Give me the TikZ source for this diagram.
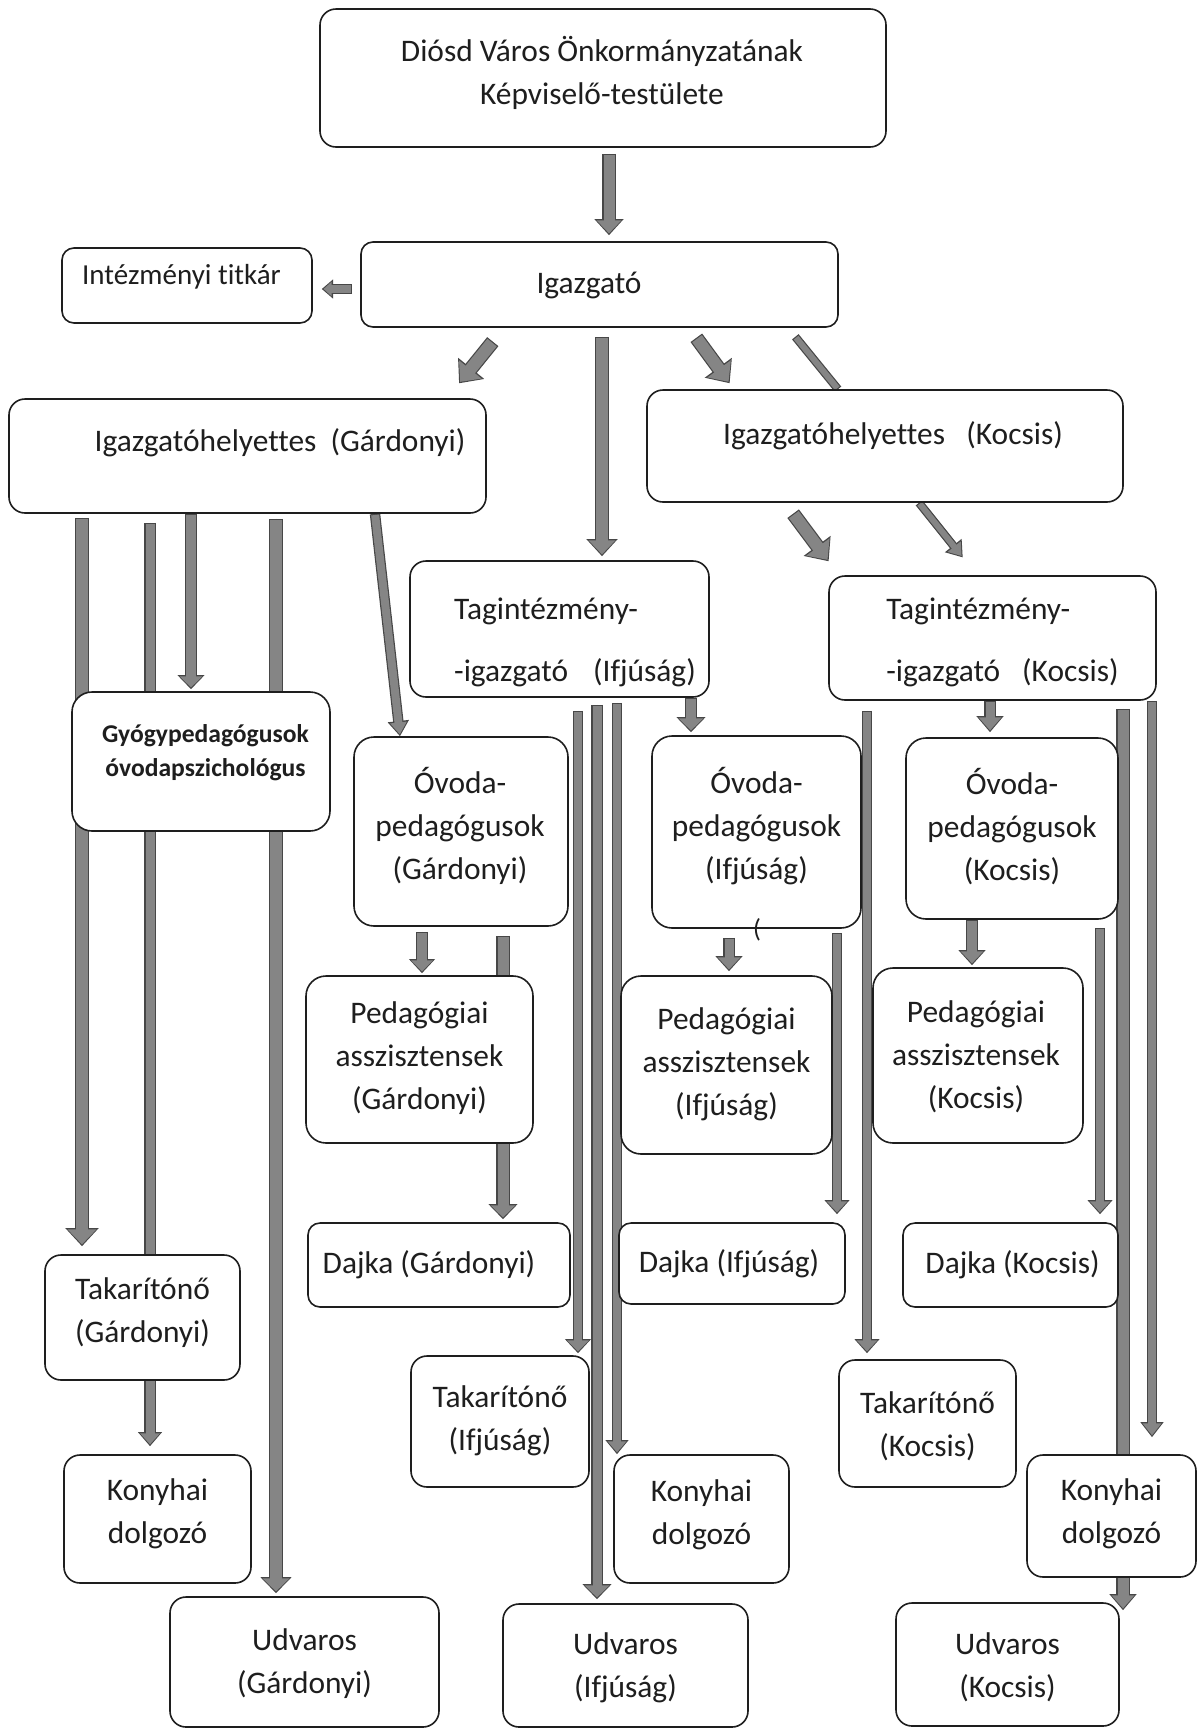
\documentclass[tikz,border=0pt]{standalone}
\usepackage{fontspec}
\setmainfont{Carlito}[Ligatures=NoCommon]
\usetikzlibrary{arrows.meta}
\definecolor{arrfill}{HTML}{858585}
\definecolor{arredge}{HTML}{474747}
\definecolor{boxline}{HTML}{1E1E1E}
\pgfdeclarelayer{back}
\pgfdeclarelayer{bg}
\pgfsetlayers{back,bg,main}
\newsavebox\offbox
% shifted text block: [align]{dx}{dy}{lines}
\newcommand{\offt}[4][c]{\sbox\offbox{\begin{tabular}{@{}#1@{}}#4\end{tabular}}%
  \raisebox{#3}[\ht\offbox][\dp\offbox]{\makebox[\wd\offbox][l]{\hspace*{#2}\usebox\offbox}}}
% box from corners (pixel units)
\newcommand{\bx}[7]{\node[obox,#6, minimum width={(#4-#2)*0.5pt}, minimum height={(#5-#3)*0.5pt}] (#1) at ({(#2+#4)/2},{(#3+#5)/2}) {#7};}
% block arrow: shaft, head width, head length, start gap, end gap, path
\newcommand{\blk}[6]{%
  \pgfmathsetmacro\bsO{#1+1.2}\pgfmathsetmacro\bhwO{#2+2.2}\pgfmathsetmacro\bhlO{#3+1.6}%
  \pgfmathsetmacro\bsgI{#4+0.6}\pgfmathsetmacro\begI{#5+0.9}%
  \draw[draw=arredge, fill=arredge, line width=\bsO pt, shorten <=#4pt, shorten >=#5pt, -{Triangle[width=\bhwO pt,length=\bhlO pt]}] #6;
  \draw[draw=arrfill, fill=arrfill, line width=#1pt, shorten <=\bsgI pt, shorten >=\begI pt, -{Triangle[width=#2pt,length=#3pt]}] #6;}
% plain bar: shaft, start gap, end gap, path
\newcommand{\lin}[4]{%
  \pgfmathsetmacro\bsO{#1+1.2}\pgfmathsetmacro\bsgI{#2+0.6}\pgfmathsetmacro\begI{#3+0.6}%
  \draw[draw=arredge, line width=\bsO pt, shorten <=#2pt, shorten >=#3pt] #4;
  \draw[draw=arrfill, line width=#1pt, shorten <=\bsgI pt, shorten >=\begI pt] #4;}
\tikzset{obox/.style={draw=boxline, line width=0.8pt, rounded corners=8pt, fill=white, inner sep=0pt, text=boxline, font=\fontsize{15.7}{21.5}\selectfont}}
\begin{document}
\begin{tikzpicture}[x=0.5pt, y=-0.5pt]
\useasboundingbox (0,0) rectangle (1199,1730);
\begin{pgfonlayer}{back}\fill[white] (0,0) rectangle (1199,1730);\end{pgfonlayer}

\bx{top}{320}{9}{886}{147}{}{\offt{-0.5pt}{1.75pt}{Diósd Város Önkormányzatának\\Képviselő-testülete}}
\bx{ig}{361}{242}{838}{327}{rounded corners=6pt}{\offt{-5.25pt}{0pt}{Igazgató}}
\bx{tit}{62}{248}{312}{323}{rounded corners=6pt, font=\fontsize{14.5}{18}\selectfont}{\offt{-2.75pt}{4.25pt}{Intézményi titkár}}
\bx{ghG}{9}{399}{486}{513}{}{\offt{16.25pt}{6.5pt}{Igazgatóhelyettes\hspace{0.45em}(Gárdonyi)}}
\bx{ghK}{647}{390}{1123}{502}{}{\offt{4pt}{5pt}{Igazgatóhelyettes\hspace{0.68em}(Kocsis)}}
\bx{tagI}{410}{561}{709}{697}{font=\fontsize{15.7}{31}\selectfont}{\offt[l]{7.75pt}{-4.5pt}{Tagintézmény-\\-igazgató\hspace{0.8em}(Ifjúság)}}
\bx{tagK}{829}{576}{1156}{700}{font=\fontsize{15.7}{31}\selectfont}{\offt[l]{5pt}{0pt}{Tagintézmény-\\-igazgató\hspace{0.7em}(Kocsis)}}
\bx{gy}{72}{692}{330}{831}{rounded corners=10pt, font=\fontsize{12.8}{17}\selectfont\bfseries}{\offt{2.25pt}{4.25pt}{Gyógypedagógusok\\óvodapszichológus}}
\bx{ovG}{354}{737}{568}{926}{rounded corners=10pt}{\offt{-0.5pt}{1.75pt}{Óvoda-\\pedagógusok\\(Gárdonyi)}}
\bx{ovI}{652}{736}{861}{928}{rounded corners=10pt}{\offt{0pt}{2pt}{Óvoda-\\pedagógusok\\(Ifjúság)}}
\bx{ovK}{906}{738}{1118}{919}{rounded corners=10pt}{\offt{0pt}{0pt}{Óvoda-\\pedagógusok\\(Kocsis)}}
\bx{paG}{306}{976}{533}{1143}{rounded corners=10pt}{\offt{0pt}{0.75pt}{Pedagógiai\\asszisztensek\\(Gárdonyi)}}
\bx{paI}{621}{976}{832}{1154}{rounded corners=10pt}{\offt{0pt}{0.75pt}{Pedagógiai\\asszisztensek\\(Ifjúság)}}
\bx{paK}{873}{968}{1083}{1143}{rounded corners=10pt}{\offt{-1pt}{-0.75pt}{Pedagógiai\\asszisztensek\\(Kocsis)}}
\bx{dG}{308}{1223}{570}{1307}{rounded corners=6pt}{\offt{-5pt}{0pt}{Dajka (Gárdonyi)}}
\bx{dI}{619}{1223}{845}{1304}{rounded corners=6pt}{\offt{-1.5pt}{0pt}{Dajka (Ifjúság)}}
\bx{dK}{903}{1223}{1118}{1307}{rounded corners=6pt}{\offt{1pt}{0pt}{Dajka (Kocsis)}}
\bx{tG}{45}{1255}{240}{1380}{}{\offt{0pt}{2.5pt}{Takarítónő\\(Gárdonyi)}}
\bx{kG}{64}{1455}{251}{1583}{}{\offt{0pt}{2.75pt}{Konyhai\\dolgozó}}
\bx{uG}{170}{1597}{439}{1727}{}{\offt{0pt}{-0.75pt}{Udvaros\\(Gárdonyi)}}
\bx{tI}{411}{1356}{589}{1487}{}{\offt{0pt}{0.5pt}{Takarítónő\\(Ifjúság)}}
\bx{kI}{614}{1455}{789}{1583}{}{\offt{0pt}{2.5pt}{Konyhai\\dolgozó}}
\bx{uI}{503}{1604}{748}{1727}{}{\offt{0pt}{-0.75pt}{Udvaros\\(Ifjúság)}}
\bx{tK}{839}{1360}{1016}{1487}{}{\offt{0pt}{-1.25pt}{Takarítónő\\(Kocsis)}}
\bx{kK}{1027}{1455}{1196}{1577}{}{\offt{0pt}{1.25pt}{Konyhai\\dolgozó}}
\bx{uK}{896}{1603}{1119}{1726}{}{\offt{0pt}{-1.25pt}{Udvaros\\(Kocsis)}}
\node[font=\fontsize{13}{13}\selectfont, text=boxline, inner sep=0pt] (paren) at (757,930) {(};

\begin{pgfonlayer}{bg}
% top level
\blk{5.5}{12}{6.5}{3}{3}{(top.south -| 609,0) -- (ig.north -| 609,0)}
\blk{4}{7}{4}{4}{4.5}{(ig.west |- 0,289) -- (tit.east |- 0,289)}
\blk{6}{14}{8}{8.9}{9.6}{(ig.south -| 504,0) -- (ghG.north -| 447,0)}
\blk{6}{13}{7}{4.5}{2}{(ig.south -| 602,0) -- (tagI.north -| 602,0)}
\blk{6}{14}{8}{6.2}{3.7}{(ig.south -| 689,0) -- (ghK.north -| 734,0)}
\lin{3}{5.8}{0}{(ig.south -| 788,0) -- (ghK.north -| 838,0)}
% from Kocsis deputy
\blk{6}{14}{8}{6.8}{8.7}{(ghK.south -| 785,0) -- (tagK.north -| 839,0)}
\blk{3}{8}{6}{0}{11.4}{(ghK.south -| 919,0) -- (tagK.north -| 977,0)}
% from Gardonyi deputy
\blk{4}{8}{6}{0}{0}{(ghG.south -| 375,0) -- (ovG.north -| 400,0)}
\blk{6}{14}{7.5}{2}{4}{(ghG.south -| 82,0) -- (tG.north -| 82,0)}
\blk{4.5}{9.5}{5.5}{4.5}{4}{(ghG.south -| 150,0) -- (kG.north -| 150,0)}
\blk{5}{11}{5.5}{0}{1}{(ghG.south -| 191,0) -- (gy.north -| 191,0)}
\blk{6}{13}{6.5}{2.5}{1.5}{(ghG.south -| 276,0) -- (uG.north -| 276,0)}
% from Tagintezmeny Ifjusag
\blk{4}{10.5}{5.5}{6.5}{1}{(tagI.south -| 578,0) -- (tI.north -| 578,0)}
\blk{4.5}{12}{6}{3.5}{2}{(tagI.south -| 597,0) -- (uI.north -| 597,0)}
\blk{4}{9}{5.5}{2.5}{0}{(tagI.south -| 617,0) -- (kI.north -| 617,0)}
\blk{5}{12}{6}{0}{1.5}{(tagI.south -| 691,0) -- (ovI.north -| 691,0)}
\blk{4.5}{11}{6}{4.5}{2}{(ovI.south -| 729,0) -- (paI.north -| 729,0)}
\blk{4}{10}{5.5}{2}{4}{(ovI.south -| 837,0) -- (dI.north -| 837,0)}
% Gardonyi ovoda
\blk{5}{10.5}{5.5}{2.5}{1}{(ovG.south -| 422,0) -- (paG.north -| 422,0)}
\blk{5.5}{12}{6}{4.5}{1.5}{(ovG.south -| 503,0) -- (dG.north -| 503,0)}
% from Tagintezmeny Kocsis
\blk{4.5}{11}{6.5}{0}{2.5}{(tagK.south -| 990,0) -- (ovK.north -| 990,0)}
\blk{4}{10}{5.5}{5}{3}{(tagK.south -| 867,0) -- (tK.north -| 867,0)}
\blk{5.5}{11}{6.5}{4}{-4}{(tagK.south -| 1123,0) -- (uK.north -| 1123,0)}
\blk{4}{9}{6}{0}{8.5}{(tagK.south -| 1152,0) -- (kK.north -| 1152,0)}
\blk{5}{11}{6}{0}{1}{(ovK.south -| 972,0) -- (paK.north -| 972,0)}
\blk{4}{10}{5.5}{4}{4}{(ovK.south -| 1100,0) -- (dK.north -| 1100,0)}
\end{pgfonlayer}
\end{tikzpicture}
\end{document}
